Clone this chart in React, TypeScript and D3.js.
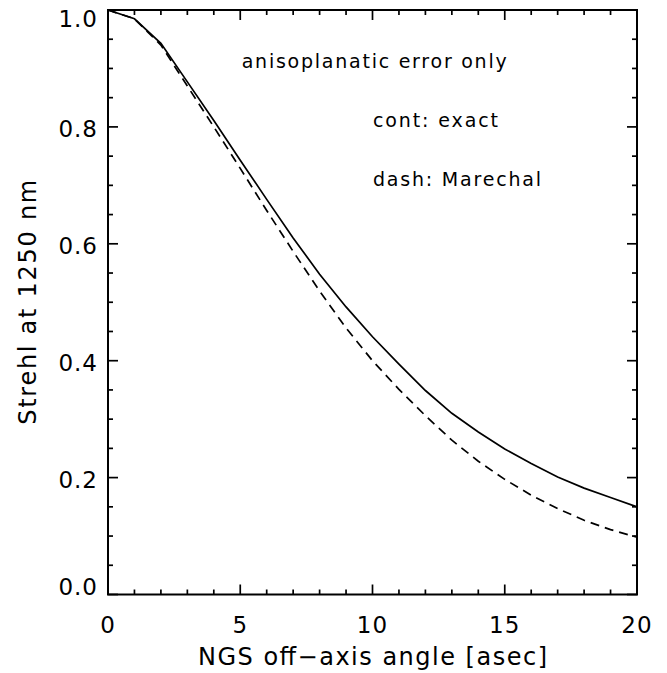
import React from "react";
import * as d3 from "d3";

const angles = [0, 1, 2, 3, 4, 5, 6, 7, 8, 9, 10, 11, 12, 13, 14, 15, 16, 17, 18, 19, 20];
const strehlExact = [1.0, 0.985, 0.943, 0.877, 0.811, 0.743, 0.676, 0.61, 0.548, 0.492, 0.441, 0.394, 0.349, 0.31, 0.278, 0.249, 0.224, 0.201, 0.182, 0.166, 0.15];
const strehlMarechal = [1.0, 0.985, 0.94, 0.87, 0.8, 0.729, 0.657, 0.587, 0.519, 0.456, 0.4, 0.351, 0.306, 0.264, 0.228, 0.197, 0.17, 0.147, 0.127, 0.111, 0.098];
const xMajor = [0, 5, 10, 15, 20];
const xMinor = d3.range(0, 20.001, 1);
const yMajor = [0, 0.2, 0.4, 0.6, 0.8, 1.0];
const yMinor = d3.range(0, 1.0001, 0.05);
const xTitle = "NGS off\u2212axis angle [asec]";
const yTitle = "Strehl at 1250 nm";
const notes = ["anisoplanatic error only", "cont: exact", "dash: Marechal"];

const W = 667, H = 673;
const L = 108, R = 637, T = 10, B = 594.5;
const FONT = "'DejaVu Sans', sans-serif";

export default function App() {
  const x = d3.scaleLinear().domain([0, 20]).range([L, R]);
  const y = d3.scaleLinear().domain([0, 1]).range([B, T]);
  const line = d3.line<number>().x((_, i) => x(angles[i])).y((d) => y(d));
  const isMajorY = (v: number) => yMajor.some((m) => Math.abs(m - v) < 1e-6);
  const isMajorX = (v: number) => xMajor.some((m) => Math.abs(m - v) < 1e-6);
  const ylabelOffset = (v: number) => (v >= 0.999 ? 17 : v <= 0.001 ? 0.5 : 10);
  return (
    <svg width={W} height={H} style={{ position: "absolute", left: 0, top: 0, background: "#fff" }}>
      <rect x={0} y={0} width={W} height={H} fill="#fff" />
      <path d={line(strehlExact) || ""} fill="none" stroke="#000" strokeWidth={1.7} />
      <path d={line(strehlMarechal) || ""} fill="none" stroke="#000" strokeWidth={1.7} strokeDasharray="9,6" />
      {/* ticks */}
      {xMinor.map((v) => {
        const len = isMajorX(v) ? 10 : 5;
        return (
          <g key={"xt" + v}>
            <line x1={x(v)} x2={x(v)} y1={B} y2={B - len} stroke="#000" strokeWidth={1.7} />
            <line x1={x(v)} x2={x(v)} y1={T} y2={T + len} stroke="#000" strokeWidth={1.7} />
          </g>
        );
      })}
      {yMinor.map((v) => {
        const len = isMajorY(v) ? 10 : 5;
        return (
          <g key={"yt" + v}>
            <line x1={L} x2={L + len} y1={y(v)} y2={y(v)} stroke="#000" strokeWidth={1.7} />
            <line x1={R} x2={R - len} y1={y(v)} y2={y(v)} stroke="#000" strokeWidth={1.7} />
          </g>
        );
      })}
      <rect x={L} y={T} width={R - L} height={B - T} fill="none" stroke="#000" strokeWidth={2} />
      {/* tick labels */}
      {xMajor.map((v) => (
        <text key={"xl" + v} x={x(v)} y={633} textAnchor="middle" fontFamily={FONT} fontSize={23} letterSpacing={1} fill="#000">
          {String(v)}
        </text>
      ))}
      {yMajor.map((v) => (
        <text key={"yl" + v} x={98} y={y(v) + ylabelOffset(v)} textAnchor="end" fontFamily={FONT} fontSize={23} letterSpacing={1} fill="#000">
          {v.toFixed(1)}
        </text>
      ))}
      {/* axis titles */}
      <text x={(L + R) / 2} y={665} textAnchor="middle" fontFamily={FONT} fontSize={24} textLength={349} lengthAdjust="spacing" fill="#000">
        {xTitle}
      </text>
      <text transform={`translate(36,${(T + B) / 2}) rotate(-90)`} textAnchor="middle" fontFamily={FONT} fontSize={24} textLength={245} lengthAdjust="spacing" fill="#000">
        {yTitle}
      </text>
      {/* annotations */}
      <text x={241.7} y={68} fontFamily={FONT} fontSize={19} textLength={265} lengthAdjust="spacing" fill="#000">{notes[0]}</text>
      <text x={373} y={127} fontFamily={FONT} fontSize={19} textLength={125} lengthAdjust="spacing" fill="#000">{notes[1]}</text>
      <text x={373} y={186} fontFamily={FONT} fontSize={19} textLength={168} lengthAdjust="spacing" fill="#000">{notes[2]}</text>
    </svg>
  );
}
